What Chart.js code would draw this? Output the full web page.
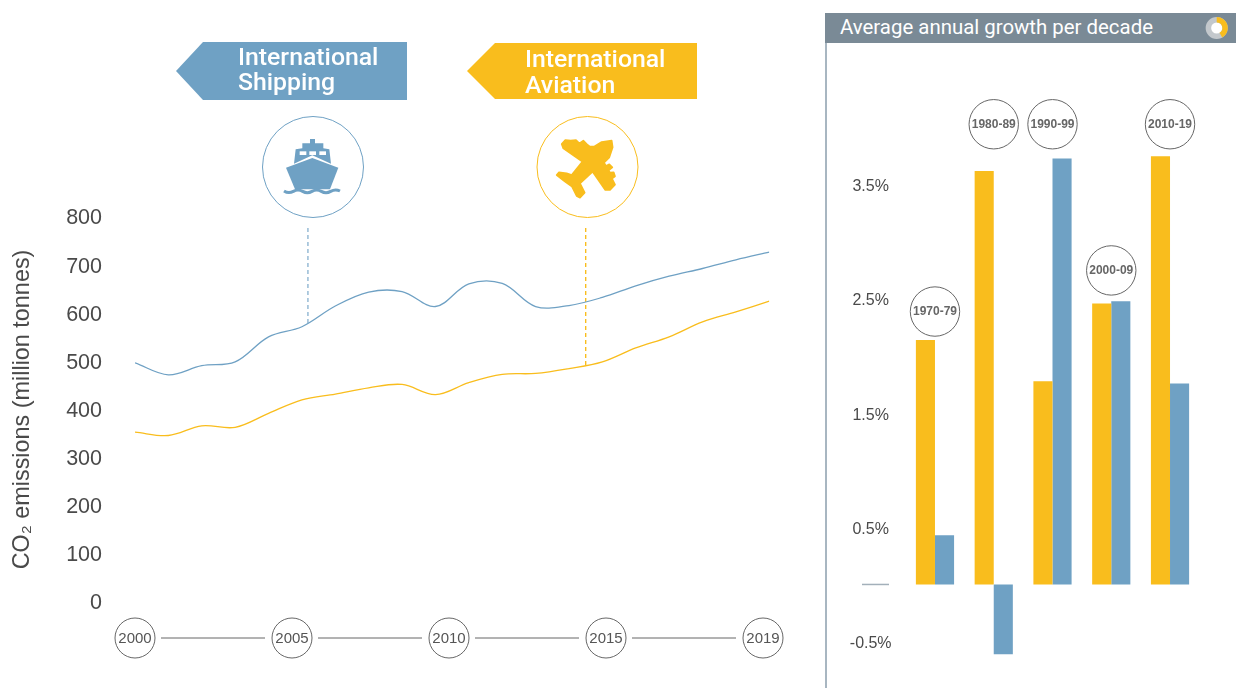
<!DOCTYPE html>
<html>
<head>
<meta charset="utf-8">
<title>CO2 emissions from international shipping and aviation</title>
<script src="https://cdn.jsdelivr.net/npm/chart.js@4/dist/chart.umd.min.js"></script>
<style>
    html, body { margin: 0; padding: 0; background: #fff; overflow: hidden; }
    #stage { position: relative; width: 1236px; height: 688px; }
    #stage canvas, #stage svg { position: absolute; }
    #overlay { left: 0; top: 0; }
    .banner { font: 500 24.8px Roboto, sans-serif; fill: #fff; }
</style>
</head>
<body>
<div id="stage">
    <div style="position:absolute;left:0;top:0;width:800px;height:688px"><canvas id="emissions"></canvas></div>
    <div style="position:absolute;left:827px;top:43px;width:409px;height:645px"><canvas id="growth"></canvas></div>

    <svg id="overlay" width="1236" height="688">
        <!-- banners -->
        <polygon points="176,71 203,42 407,42 407,100 203,100" fill="#6fa1c4"/>
        <text class="banner" x="238" y="65">International</text>
        <text class="banner" x="238" y="90">Shipping</text>
        <polygon points="467,71 495,43 697,43 697,99 495,99" fill="#f9bd1d"/>
        <text class="banner" x="525" y="67">International</text>
        <text class="banner" x="525" y="93">Aviation</text>

        <!-- ship -->
        <circle cx="313" cy="167" r="50.5" fill="#fff" stroke="#6fa1c4" stroke-width="1"/>
        <g transform="translate(275,130) scale(0.3333)" fill="#6fa1c4">
            <polygon points="33,113 112,84 190,113 165,178 60,178"/>
            <polygon points="57,101 62,58 82,55 82,40 105,40 105,27 120,27 120,40 145,40 145,55 163,58 168,101 112,76"/>
            <rect x="74" y="64" width="20" height="11" fill="#fff"/>
            <rect x="103" y="64" width="20" height="11" fill="#fff"/>
            <rect x="133" y="64" width="20" height="11" fill="#fff"/>
            <path d="M27,183 q14,9 28,1 t28,0 t28,0 t28,0 t28,0 t28,-1" fill="none" stroke="#6fa1c4" stroke-width="9"/>
        </g>

        <!-- plane -->
        <circle cx="587.5" cy="167" r="50.5" fill="#fff" stroke="#f9bd1d" stroke-width="1"/>
        <g transform="translate(550,130) scale(0.3333)" fill="#f9bd1d" stroke="#f9bd1d" stroke-width="5" stroke-linejoin="round">
            <polygon points="185,32 188,52 178,82 162,98 168,108 178,103 187,112 176,121 180,128 191,127 195,139 186,146 195,164 180,180 166,180 128,125 90,160 104,188 90,203 80,198 66,170 45,155 20,135 27,127 50,130 65,135 97,95 40,55 35,42 46,30 62,32 78,30 88,40 100,32 113,45 120,50 132,50 155,36"/>
        </g>

        <!-- panel header -->
        <rect x="825" y="13" width="411" height="30" fill="#7a8a96"/>
        <rect x="825" y="43" width="2" height="645" fill="#a8b6c1"/>
        <text x="840" y="34" style="font:400 20.4px Roboto,sans-serif" fill="#fff">Average annual growth per decade</text>
        <circle cx="1216.7" cy="28" r="8.3" fill="#fff" stroke="#c3c8cc" stroke-width="5.5"/>
        <path d="M1216.7,19.7 A8.3,8.3 0 0 1 1220.9,35.2" fill="none" stroke="#f9bd1d" stroke-width="5.5"/>
    </svg>
</div>

<script>
// left chart, million tonnes
const years = [2000, 2001, 2002, 2003, 2004, 2005, 2006, 2007, 2008, 2009, 2010, 2011, 2012, 2013, 2014, 2015, 2016, 2017, 2018, 2019];
const shipping = [497, 472, 491, 499, 551, 572, 615, 644, 645, 614, 661, 662, 614, 616, 633, 657, 677, 693, 711, 727];
const aviation = [353, 346, 366, 363, 392, 420, 432, 445, 452, 431, 456, 473, 475, 485, 499, 528, 551, 582, 603, 625];
const timelineYears = [2000, 2005, 2010, 2015, 2019];

// callout leaders under the two icons
const shippingGuideX = [2005.18, 2005.18];
const shippingGuideY = [777, 575];
const aviationGuideX = [2013.5, 2013.5];
const aviationGuideY = [777, 492];

// right chart, % per year
const decades = ['1970-79', '1980-89', '1990-99', '2000-09', '2010-19'];
const aviationGrowth = [2.14, 3.62, 1.78, 2.46, 3.75];
const shippingGrowth = [0.43, -0.61, 3.73, 2.48, 1.76];
const decadeBubbleY = [2.39, 4.03, 4.03, 2.75, 4.03];
const growthTicks = [-0.5, 0.5, 1.5, 2.5, 3.5];

const BLUE = '#6fa1c4';
const YELLOW = '#f9bd1d';
const TEXT = '#4a4a4a';

function pairs(xs, ys) {
    return xs.map((x, i) => ({x: x, y: ys[i]}));
}

// circles round the year labels and the little lines between them
const timelinePlugin = {
    id: 'timeline',
    beforeDraw(chart) {
        const scale = chart.scales.timeline;
        const ctx = chart.ctx;
        const y = 638;
        const r = 20;
        ctx.save();
        ctx.lineWidth = 1;
        ctx.strokeStyle = '#666';
        let prev = null;
        scale.ticks.forEach((t) => {
            const x = scale.getPixelForValue(t.value);
            ctx.beginPath();
            ctx.arc(x, y, r, 0, Math.PI * 2);
            ctx.stroke();
            if (prev !== null) {
                ctx.beginPath();
                ctx.moveTo(prev + r + 6, y);
                ctx.lineTo(x - r - 7, y);
                ctx.stroke();
            }
            prev = x;
        });
        ctx.restore();
    }
};

new Chart(document.getElementById('emissions'), {
    type: 'line',
    plugins: [timelinePlugin],
    data: {
        datasets: [
            {data: pairs(years, shipping), borderColor: BLUE, borderWidth: 1.3, tension: 0.35, pointRadius: 0},
            {data: pairs(years, aviation), borderColor: YELLOW, borderWidth: 1.3, tension: 0.35, pointRadius: 0},
            {data: pairs(shippingGuideX, shippingGuideY), borderColor: '#8fb6d2', borderWidth: 1.4, borderDash: [4, 3], pointRadius: 0},
            {data: pairs(aviationGuideX, aviationGuideY), borderColor: YELLOW, borderWidth: 1.4, borderDash: [4, 3], pointRadius: 0}
        ]
    },
    options: {
        responsive: true,
        maintainAspectRatio: false,
        animation: false,
        layout: {padding: {top: 217, right: 21, left: 0, bottom: 0}},
        plugins: {legend: {display: false}, tooltip: {enabled: false}},
        scales: {
            x: {type: 'linear', min: 2000, max: 2019, display: false},
            timeline: {
                type: 'linear',
                axis: 'x',
                position: 'bottom',
                min: 0,
                max: 4.04,
                grid: {display: false},
                border: {display: false},
                afterBuildTicks: (scale) => {
                    scale.ticks = timelineYears.map((_, i) => ({value: i}));
                },
                afterFit: (scale) => { scale.height = 86; },
                ticks: {
                    autoSkip: false,
                    maxRotation: 0,
                    padding: 20,
                    color: '#555',
                    font: {family: 'Liberation Sans', size: 15},
                    callback: (v) => timelineYears[v]
                }
            },
            y: {
                min: 0,
                max: 800,
                grid: {display: false},
                border: {display: false},
                afterFit: (scale) => { scale.width = 135; },
                ticks: {stepSize: 100, padding: 25, labelOffset: 1.5, color: TEXT, font: {family: 'Liberation Sans', size: 21.5}},
                title: {
                    display: true,
                    text: 'CO₂ emissions (million tonnes)',
                    color: TEXT,
                    padding: {top: 9, bottom: 0},
                    font: {family: 'Liberation Sans', size: 23.4}
                }
            }
        }
    }
});

// decade names inside the bubbles, plus the short stub at zero
const bubblePlugin = {
    id: 'bubbles',
    afterDatasetsDraw(chart) {
        const ctx = chart.ctx;
        const meta = chart.getDatasetMeta(2);
        ctx.save();
        ctx.font = 'bold 12px "Liberation Sans"';
        ctx.fillStyle = '#666';
        ctx.textAlign = 'center';
        ctx.textBaseline = 'middle';
        meta.data.forEach((pt, i) => ctx.fillText(decades[i], pt.x, pt.y));
        const zero = chart.scales.y.getPixelForValue(0);
        ctx.strokeStyle = '#a3b0ba';
        ctx.lineWidth = 1.5;
        ctx.beginPath();
        ctx.moveTo(35, zero);
        ctx.lineTo(62, zero);
        ctx.stroke();
        ctx.restore();
    }
};

new Chart(document.getElementById('growth'), {
    type: 'bar',
    plugins: [bubblePlugin],
    data: {
        labels: decades,
        datasets: [
            {data: aviationGrowth, backgroundColor: YELLOW, barPercentage: 1, categoryPercentage: 0.65, order: 2},
            {data: shippingGrowth, backgroundColor: BLUE, barPercentage: 1, categoryPercentage: 0.65, order: 2},
            {
                type: 'line',
                data: decadeBubbleY,
                showLine: false,
                pointRadius: 24.7,
                pointBackgroundColor: '#fff',
                pointBorderColor: '#666',
                pointBorderWidth: 1,
                clip: false,
                order: 1
            }
        ]
    },
    options: {
        responsive: true,
        maintainAspectRatio: false,
        animation: false,
        layout: {autoPadding: false, padding: {top: 39, right: 36.6, left: 0, bottom: 9}},
        plugins: {legend: {display: false}, tooltip: {enabled: false}},
        scales: {
            x: {display: false},
            y: {
                min: -0.77,
                max: 4.4,
                grid: {display: false},
                border: {display: false},
                afterBuildTicks: (scale) => {
                    scale.ticks = growthTicks.map((v) => ({value: v}));
                },
                afterFit: (scale) => { scale.width = 78.6; },
                ticks: {
                    padding: 6,
                    crossAlign: 'center',
                    labelOffset: 2,
                    color: TEXT,
                    font: {family: 'Liberation Sans', size: 16},
                    callback: (v) => v + '%'
                }
            }
        }
    }
});
</script>
</body>
</html>
